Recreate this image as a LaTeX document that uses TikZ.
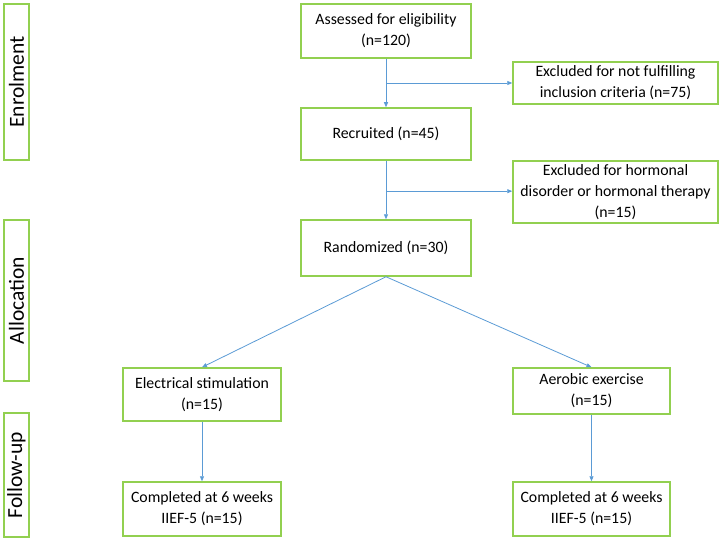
\documentclass[tikz,border=0pt]{standalone}
\usepackage{fontspec}
\setmainfont{Carlito}
\usetikzlibrary{arrows.meta, positioning, calc}
\definecolor{boxGreen}{HTML}{92D050}
\definecolor{lineBlue}{HTML}{5B9BD5}

\tikzset{
    flowbox/.style={draw=boxGreen, line width=1.5pt, rectangle, align=center,
        inner sep=2pt, font=\fontsize{15.8}{21}\selectfont},
    phasebox/.style={draw=boxGreen, line width=1.5pt, rectangle, rotate=90,
        minimum height=25pt, inner sep=0pt, font=\fontsize{21.5}{24}\selectfont},
    flowarrow/.style={draw=lineBlue, line width=0.8pt, -{Triangle[length=5pt,width=4pt]}}
}

\begin{document}
\begin{tikzpicture}[x=1pt, y=-1pt]
        \useasboundingbox (0,0) rectangle (722,540);

        % Phase labels on the left
        \node[phasebox, minimum width=156pt] (enrol) at (16.5, 82) {Enrolment};
        \node[phasebox, minimum width=161pt] (alloc) at (16.5, 300.5) {Allocation};
        \node[phasebox, minimum width=124pt] (follow) at (16.5, 475) {Follow-up};

        % Main column
        \node[flowbox, minimum width=170pt, minimum height=54pt] (assess) at (386, 31) {Assessed for eligibility\\(n=120)};
        \node[flowbox, minimum width=170pt, minimum height=52pt] (recruit) at (386, 134) {Recruited (n=45)};
        \node[flowbox, minimum width=170pt, minimum height=56pt] (random) at (386, 248) {Randomized (n=30)};

        % Exclusions
        \node[flowbox, minimum width=205pt, minimum height=42pt, inner sep=0pt] (exclA) at (615.5, 83) {Excluded for not fulfilling\\inclusion criteria (n=75)};
        \node[flowbox, minimum width=205pt, minimum height=62pt, inner sep=0pt] (exclB) at (615.5, 192) {Excluded for hormonal\\disorder or hormonal therapy\\(n=15)};

        % Groups
        \node[flowbox, minimum width=158pt, minimum height=53pt] (elec) at (202, 394.5) {Electrical stimulation\\(n=15)};
        \node[flowbox, minimum width=157pt, minimum height=46pt, inner sep=0pt] (aero) at (591.5, 391) {Aerobic exercise\\(n=15)};
        \node[flowbox, minimum width=158pt, minimum height=54pt] (doneE) at (202, 509) {Completed at 6 weeks\\IIEF-5 (n=15)};
        \node[flowbox, minimum width=157pt, minimum height=54pt] (doneA) at (591.5, 509) {Completed at 6 weeks\\IIEF-5 (n=15)};

        % Branch points
        \coordinate (splitA) at ($(assess.south)!0.5!(recruit.north)$);
        \coordinate (splitB) at ($(recruit.south)!0.52!(random.north)$);

        % Connectors
        \draw[flowarrow] (assess.south) -- (recruit.north);
        \draw[flowarrow] (splitA) -- (splitA -| exclA.west);
        \draw[flowarrow] (recruit.south) -- (random.north);
        \draw[flowarrow] (splitB) -- (splitB -| exclB.west);
        \draw[flowarrow] (random.south) -- (elec.north);
        \draw[flowarrow] (random.south) -- (aero.north);
        \draw[flowarrow] (elec.south) -- (doneE.north);
        \draw[flowarrow] (aero.south) -- (doneA.north);
    \end{tikzpicture}
\end{document}
